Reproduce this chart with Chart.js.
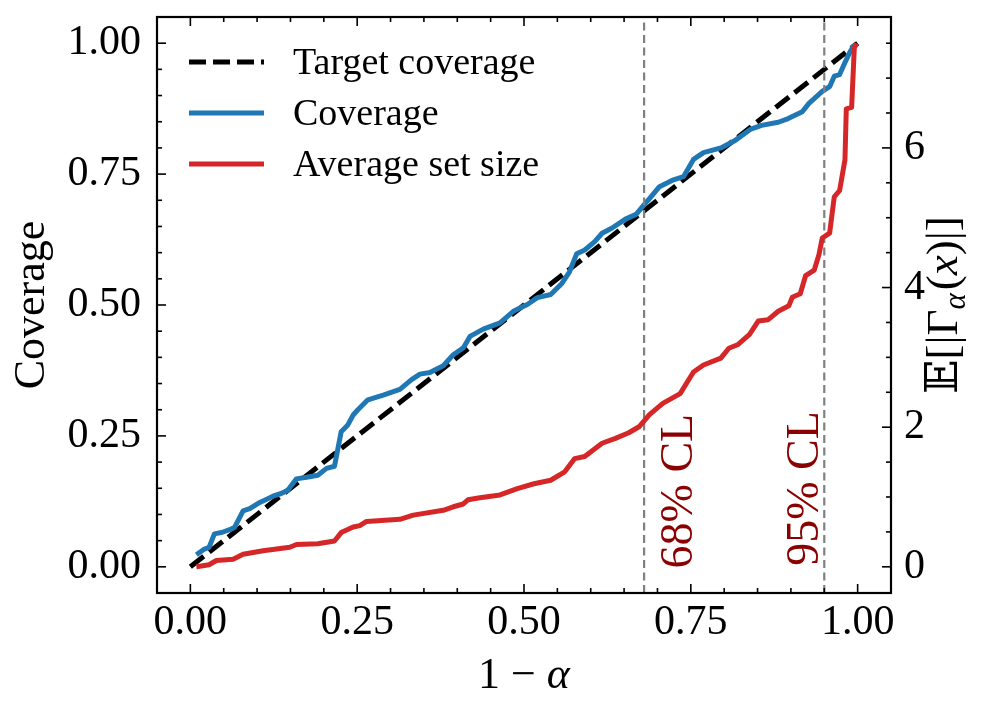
<!DOCTYPE html>
<html><head><meta charset="utf-8">
<script src="https://cdn.jsdelivr.net/npm/chart.js@4.4.1/dist/chart.umd.min.js"></script>
<style>html,body{margin:0;padding:0;background:#fff;}canvas{display:block}</style>
</head><body>
<canvas id="c" width="997" height="714"></canvas>
<script>
// ---------------- data ----------------
const targetX = [0, 1];
const targetY = [0, 1];

const coverageX = [0.009,0.021,0.028,0.036,0.048,0.061,0.066,0.079,0.089,0.104,0.116,0.126,0.136,0.146,0.159,0.174,0.191,0.204,0.216,0.226,0.236,0.244,0.251,0.266,0.289,0.314,0.331,0.344,0.359,0.379,0.394,0.409,0.419,0.439,0.464,0.484,0.505,0.520,0.540,0.556,0.568,0.579,0.591,0.606,0.617,0.632,0.652,0.668,0.683,0.688,0.703,0.724,0.739,0.754,0.769,0.795,0.815,0.840,0.856,0.881,0.896,0.917,0.927,0.947,0.958,0.965,0.973,0.981,0.988,0.995];
const coverageY = [0.023,0.034,0.037,0.063,0.066,0.072,0.075,0.107,0.111,0.123,0.130,0.136,0.140,0.146,0.168,0.171,0.175,0.188,0.192,0.258,0.271,0.290,0.300,0.319,0.328,0.339,0.357,0.368,0.371,0.384,0.405,0.418,0.440,0.454,0.466,0.488,0.501,0.514,0.520,0.540,0.563,0.598,0.605,0.621,0.637,0.647,0.664,0.673,0.696,0.703,0.726,0.739,0.745,0.778,0.791,0.800,0.813,0.836,0.843,0.849,0.856,0.869,0.885,0.908,0.917,0.937,0.940,0.963,0.982,0.997];

const setSizeX = [0.009,0.028,0.039,0.064,0.079,0.109,0.149,0.159,0.191,0.216,0.226,0.244,0.254,0.264,0.314,0.334,0.379,0.394,0.409,0.416,0.434,0.464,0.490,0.515,0.540,0.561,0.576,0.591,0.617,0.637,0.657,0.673,0.688,0.708,0.734,0.754,0.769,0.795,0.807,0.820,0.838,0.851,0.866,0.881,0.897,0.902,0.914,0.922,0.935,0.942,0.947,0.958,0.965,0.973,0.981,0.983,0.991,0.995,0.998];
const setSizeY = [0.00,0.03,0.09,0.11,0.18,0.23,0.28,0.32,0.33,0.37,0.49,0.57,0.59,0.65,0.68,0.74,0.81,0.86,0.90,0.96,0.99,1.03,1.12,1.19,1.24,1.36,1.55,1.58,1.77,1.84,1.92,2.01,2.18,2.34,2.48,2.79,2.89,2.99,3.13,3.18,3.33,3.52,3.54,3.66,3.74,3.86,3.91,4.17,4.25,4.47,4.71,4.78,5.30,5.39,5.83,6.56,6.58,7.43,7.50];

const seriesLabels = ['Target coverage', 'Coverage', 'Average set size'];
const clLevels = [0.68, 0.95];
const clLabels = ['68% CL', '95% CL'];

const xTicks = [0, 0.25, 0.5, 0.75, 1];
const xTickLabels = ['0.00', '0.25', '0.50', '0.75', '1.00'];
const yTicks = [0, 0.25, 0.5, 0.75, 1];
const yTickLabels = ['0.00', '0.25', '0.50', '0.75', '1.00'];
const y1Ticks = [0, 2, 4, 6];
const y1TickLabels = ['0', '2', '4', '6'];

// ---------------- layout / style ----------------
const clTextPos = [{x: 0.752, y: -0.003}, {x: 0.940, y: 0.002}];
const SERIF = '"Liberation Serif", "DejaVu Serif", serif';
const BLUE = '#1f77b4', RED = '#d62728', DARKRED = '#8b0000';

const pts = (xs, ys) => xs.map((v, i) => ({x: v, y: ys[i]}));

const datasets = [
  {label: seriesLabels[0], data: pts(targetX, targetY), yAxisID: 'y', borderColor: '#000', borderWidth: 5, borderDash: [17, 7], order: 3},
  {label: seriesLabels[1], data: pts(coverageX, coverageY), yAxisID: 'y', borderColor: BLUE, borderWidth: 5, order: 2},
  {label: seriesLabels[2], data: pts(setSizeX, setSizeY), yAxisID: 'y1', borderColor: RED, borderWidth: 5, order: 0},
];
clLevels.forEach(v => datasets.push({label: 'cl', data: [{x: v, y: -0.05}, {x: v, y: 1.05}], yAxisID: 'y', borderColor: '#808080', borderWidth: 2.2, borderDash: [8, 4.5], order: 1}));
datasets.forEach(d => { d.pointRadius = 0; d.tension = 0; d.fill = false; d.borderJoinStyle = 'round'; });

const tickFont = {family: SERIF, size: 42};

function fixTicks(values) { return scale => { scale.ticks = values.map(v => ({value: v})); }; }
function noPad(s) { s.paddingTop = 0; s.paddingBottom = 0; s.paddingLeft = 0; s.paddingRight = 0; }

const decor = {
  id: 'decor',
  afterDatasetsDraw(chart) {
    const {ctx, chartArea: a, scales: {x, y, y1}} = chart;
    ctx.save();
    // CL annotations
    ctx.fillStyle = DARKRED;
    ctx.font = `46px ${SERIF}`;
    ctx.textAlign = 'left';
    ctx.textBaseline = 'alphabetic';
    clLabels.forEach((t, i) => {
      ctx.save();
      ctx.translate(x.getPixelForValue(clTextPos[i].x), y.getPixelForValue(clTextPos[i].y));
      ctx.rotate(-Math.PI / 2);
      ctx.fillText(t, 0, 0);
      ctx.restore();
    });
    // inward ticks
    ctx.strokeStyle = '#000';
    ctx.lineWidth = 1.6;
    const seg = (x1, yy1, x2, yy2) => { ctx.beginPath(); ctx.moveTo(x1, yy1); ctx.lineTo(x2, yy2); ctx.stroke(); };
    const MAJ = 9, MIN = 5;
    for (let k = -1; k <= 21; k++) {
      const v = k * 0.05;
      if (v < x.min - 1e-9 || v > x.max + 1e-9) continue;
      const L = (k % 5 === 0) ? MAJ : MIN;
      const p = x.getPixelForValue(v);
      seg(p, a.bottom, p, a.bottom - L);
      seg(p, a.top, p, a.top + L);
    }
    for (let k = -1; k <= 21; k++) {
      const v = k * 0.05;
      if (v < y.min - 1e-9 || v > y.max + 1e-9) continue;
      const L = (k % 5 === 0) ? MAJ : MIN;
      const p = y.getPixelForValue(v);
      seg(a.left, p, a.left + L, p);
    }
    for (let k = 0; k <= 15; k++) {
      const v = k * 0.5;
      if (v < y1.min - 1e-9 || v > y1.max + 1e-9) continue;
      const L = (k % 4 === 0) ? MAJ : MIN;
      const p = y1.getPixelForValue(v);
      seg(a.right, p, a.right - L, p);
    }
    // frame
    ctx.lineWidth = 2.2;
    ctx.strokeRect(a.left, a.top, a.right - a.left, a.bottom - a.top);
    ctx.restore();
  },
  afterDraw(chart) {
    const {ctx, chartArea: a} = chart;
    ctx.save();
    ctx.fillStyle = '#000';
    // legend
    const ds = chart.data.datasets;
    for (let i = 0; i < 3; i++) {
      const yy = 62 + 51 * i;
      ctx.save();
      ctx.strokeStyle = ds[i].borderColor;
      ctx.lineWidth = 5;
      ctx.setLineDash(ds[i].borderDash || []);
      ctx.beginPath(); ctx.moveTo(189, yy); ctx.lineTo(264, yy); ctx.stroke();
      ctx.restore();
      ctx.font = `38px ${SERIF}`;
      ctx.textAlign = 'left';
      ctx.textBaseline = 'alphabetic';
      ctx.fillText(ds[i].label, 293, yy + 12);
    }
    // x title "1 − α"
    const cx = (a.left + a.right) / 2;
    ctx.textBaseline = 'alphabetic';
    ctx.textAlign = 'left';
    const f1 = `44px ${SERIF}`, f2 = `italic 44px ${SERIF}`;
    const xt = [{t: '1', f: f1}, {t: '−', f: f1}, {t: 'α', f: f2}];
    const gap = 11;
    let tw = gap * 2;
    xt.forEach(p => { ctx.font = p.f; p.w = ctx.measureText(p.t).width; tw += p.w; });
    let sx = cx - tw / 2;
    xt.forEach(p => { ctx.font = p.f; ctx.fillText(p.t, sx, 688); sx += p.w + gap; });
    // left title
    const cy = (a.top + a.bottom) / 2;
    ctx.save();
    ctx.translate(44, cy);
    ctx.rotate(-Math.PI / 2);
    ctx.font = `44px ${SERIF}`;
    ctx.textAlign = 'center';
    ctx.fillText('Coverage', 0, 0);
    ctx.restore();
    // right title  E[|Γ_α(x)|]
    const pieces = [
      {t: '𝔼', f: `45px "DejaVu Serif", "DejaVu Sans", serif`, dy: 0},
      {t: '[|Γ', f: `45px ${SERIF}`, dy: 0},
      {t: 'α', f: `italic 31px ${SERIF}`, dy: 8},
      {t: '(', f: `45px ${SERIF}`, dy: 0},
      {t: 'x', f: `italic 45px ${SERIF}`, dy: 0},
      {t: ')|]', f: `45px ${SERIF}`, dy: 0},
    ];
    let tot = 0;
    pieces.forEach(p => { ctx.font = p.f; p.w = ctx.measureText(p.t).width + (p.t === 'α' ? 3 : 0); tot += p.w; });
    ctx.save();
    ctx.translate(957, cy);
    ctx.rotate(-Math.PI / 2);
    ctx.textAlign = 'left';
    let px = -tot / 2;
    pieces.forEach(p => { ctx.font = p.f; ctx.fillText(p.t, px, p.dy); px += p.w; });
    ctx.restore();
    ctx.restore();
  }
};

new Chart(document.getElementById('c'), {
  type: 'line',
  data: {datasets},
  options: {
    responsive: false,
    devicePixelRatio: 1,
    animation: false,
    events: [],
    layout: {padding: {top: 17, left: 0, right: 0, bottom: 0}},
    plugins: {legend: {display: false}, tooltip: {enabled: false}},
    scales: {
      x: {
        type: 'linear', position: 'bottom', min: -0.05, max: 1.05,
        afterBuildTicks: fixTicks(xTicks),
        afterFit: s => { s.height = 121; noPad(s); },
        grid: {display: false}, border: {display: false},
        ticks: {font: tickFont, color: '#000', padding: -3, maxRotation: 0, autoSkip: false,
                callback: (v, i) => xTickLabels[i]}
      },
      y: {
        type: 'linear', position: 'left', min: -0.05, max: 1.05,
        afterBuildTicks: fixTicks(yTicks),
        afterFit: s => { s.width = 157; noPad(s); },
        grid: {display: false}, border: {display: false},
        ticks: {font: tickFont, color: '#000', padding: 8, autoSkip: false,
                callback: (v, i) => yTickLabels[i]}
      },
      y1: {
        type: 'linear', position: 'right', min: -0.375, max: 7.875,
        afterBuildTicks: fixTicks(y1Ticks),
        afterFit: s => { s.width = 106; noPad(s); },
        grid: {display: false}, border: {display: false},
        ticks: {font: tickFont, color: '#000', padding: 5, autoSkip: false,
                callback: (v, i) => y1TickLabels[i]}
      }
    }
  },
  plugins: [decor]
});
</script>
</body></html>
